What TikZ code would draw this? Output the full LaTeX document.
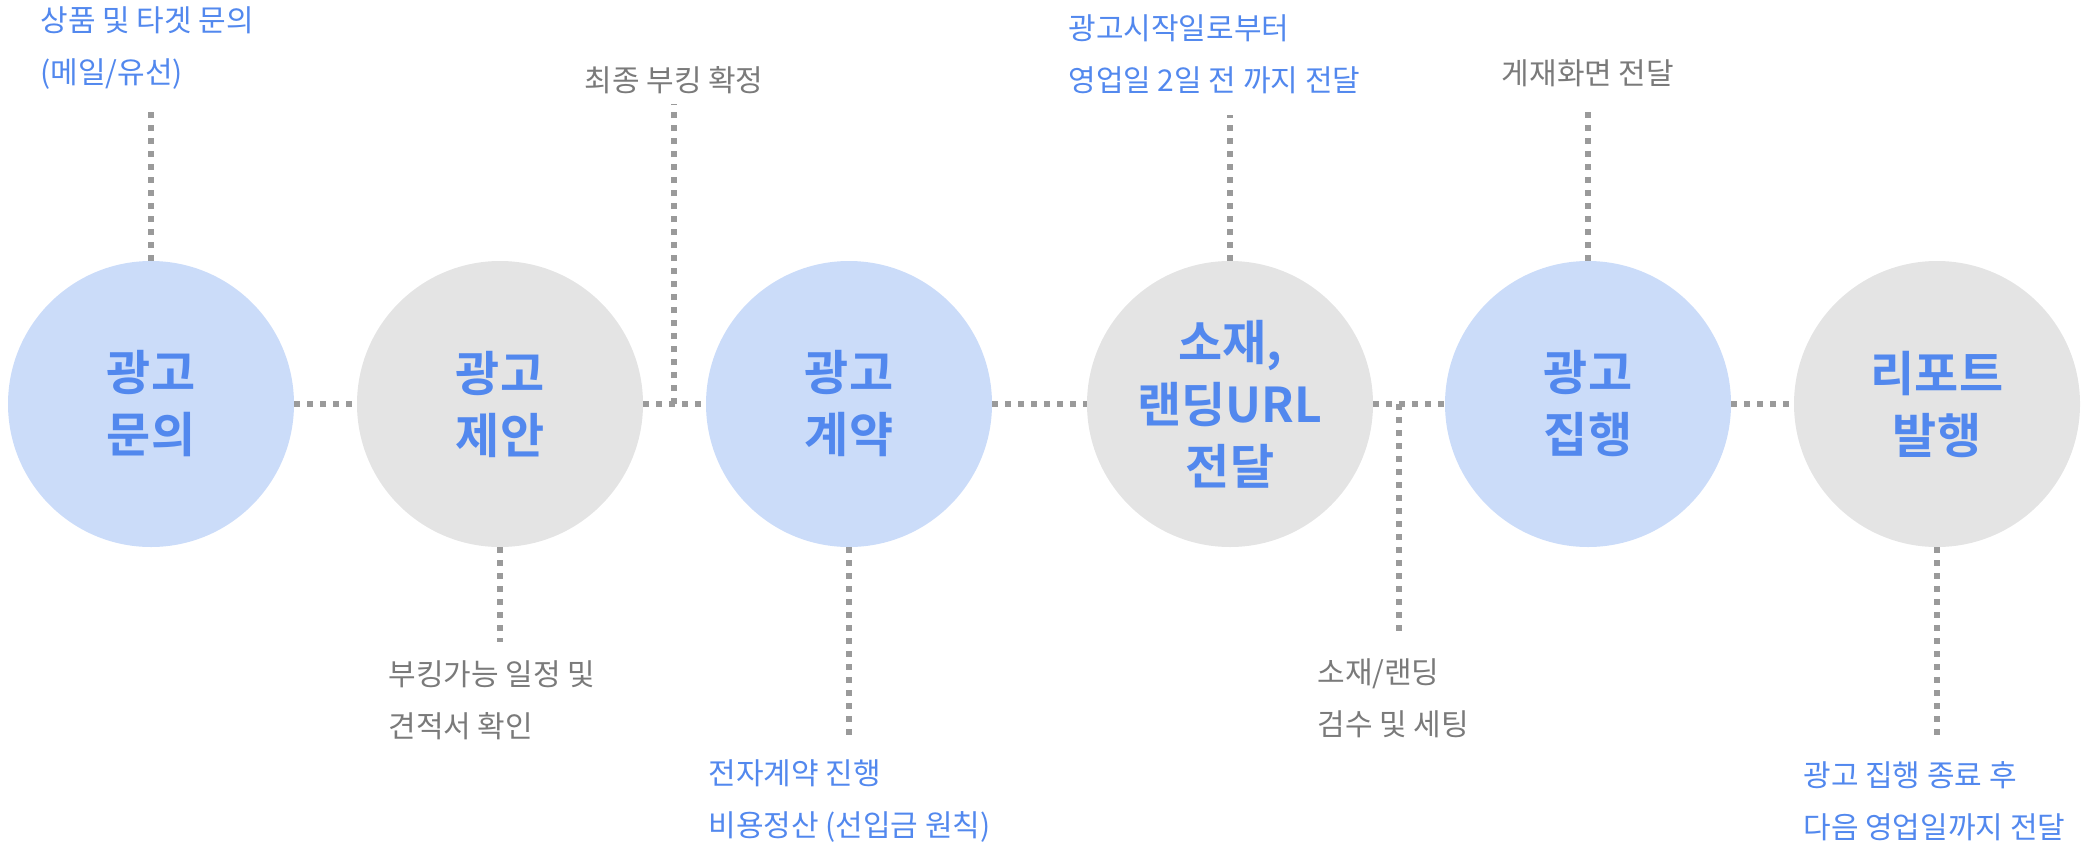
\documentclass[tikz,border=0pt]{standalone}
\usepackage{fontspec}
\setmainfont{Noto Sans CJK KR}[BoldFont={Noto Sans CJK KR Bold}]
\definecolor{fillblue}{HTML}{CBDCF9}
\definecolor{fillgray}{HTML}{E4E4E4}
\definecolor{inkblue}{HTML}{5288EE}
\definecolor{inkgray}{HTML}{7A7A7A}
\definecolor{dotgray}{HTML}{9A9A9A}
\tikzset{
  stage/.style={circle, minimum size=143pt, inner sep=0pt, align=center,
    text=inkblue, font=\fontsize{24}{31}\selectfont\bfseries},
  stageblue/.style={stage, fill=fillblue},
  stagegray/.style={stage, fill=fillgray},
  dotline/.style={draw=dotgray, line width=3pt, dash pattern=on 3pt off 3.5pt},
  note/.style={inner sep=0pt, align=left, font=\fontsize{15}{26}\selectfont},
  noteblue/.style={note, text=inkblue},
  notegray/.style={note, text=inkgray}
}
\begin{document}
\begin{tikzpicture}[x=0.5pt, y=-0.5pt]
\useasboundingbox (0,0) rectangle (2096,846);
% stages
\node[stageblue] (c1) at (151,404) {광고\\문의};
\node[stagegray] (c2) at (500,404) {광고\\제안};
\node[stageblue] (c3) at (849,404) {광고\\계약};
\node[stagegray] (c4) at (1230,404) {소재,\\랜딩URL\\전달};
\node[stageblue] (c5) at (1588,404) {광고\\집행};
\node[stagegray] (c6) at (1937,404) {리포트\\발행};
% main line
\draw[dotline] (c1.east) -- (c2.west);
\draw[dotline] (c2.east) -- (c3.west);
\draw[dotline] (c3.east) -- (c4.west);
\draw[dotline] (c4.east) -- (c5.west);
\draw[dotline] (c5.east) -- (c6.west);
% notes
\node[noteblue, anchor=west] (t1) at (40,48) {상품 및 타겟 문의\\(메일/유선)};
\node[notegray] (t2) at (674,80) {최종 부킹 확정};
\node[notegray, anchor=west] (t3) at (388,700) {부킹가능 일정 및\\견적서 확인};
\node[noteblue, anchor=west] (t4) at (708,801) {전자계약 진행\\비용정산 (선입금 원칙)};
\node[noteblue, anchor=west] (t5) at (1068,54) {광고시작일로부터\\영업일 2일 전 까지 전달};
\node[notegray] (t6) at (1588,73) {게재화면 전달};
\node[notegray, anchor=west] (t7) at (1317,698) {소재/랜딩\\검수 및 세팅};
\node[noteblue, anchor=west] (t8) at (1803,801) {광고 집행 종료 후\\다음 영업일까지 전달};
% ends of the note lines
\coordinate (e1) at (151,107);
\coordinate (j2) at (674,404);
\coordinate (e2) at (674,104);
\coordinate (e3) at (500,642);
\coordinate (e4) at (849,740);
\coordinate (e5) at (1230,115);
\coordinate (e6) at (1588,107);
\coordinate (j7) at (1399,404);
\coordinate (e7) at (1399,635);
\coordinate (e8) at (1937,742);
\draw[dotline] (c1.north) -- (e1);
\draw[dotline] (j2) -- (e2);
\draw[dotline] (c2.south) -- (e3);
\draw[dotline] (c3.south) -- (e4);
\draw[dotline] (c4.north) -- (e5);
\draw[dotline] (c5.north) -- (e6);
\draw[dotline] (j7) -- (e7);
\draw[dotline] (c6.south) -- (e8);
\end{tikzpicture}
\end{document}
